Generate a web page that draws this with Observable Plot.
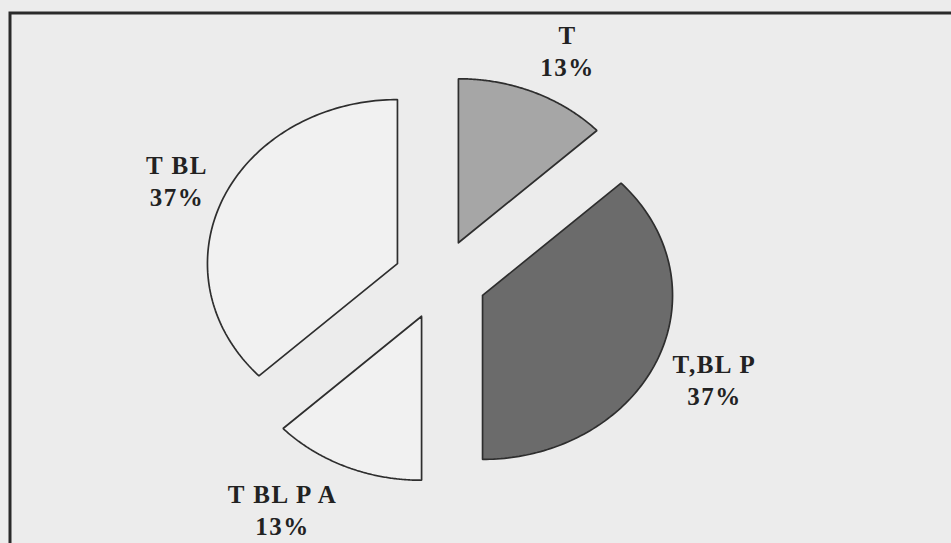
<!DOCTYPE html>
<html>
<head>
<meta charset="utf-8">
<script src="https://cdn.jsdelivr.net/npm/d3@7"></script>
<script src="https://cdn.jsdelivr.net/npm/@observablehq/plot@0.6"></script>
<style>
  html, body { margin: 0; padding: 0; background: #ececec; }
  #chart svg { display: block; }
</style>
</head>
<body>
<div id="chart"></div>
<script>
// ---- data ----
const categories = ["T", "T,BL P", "T BL P A", "T BL"];
const percents = [13, 37, 13, 37];
const sliceFills = ["#a6a6a6", "#6b6b6b", "#f1f1f1", "#f1f1f1"];

// ---- layout (style constants) ----
const W = 951, H = 543;
const CX = 439.5, CY = 279;      // pie centre in px
const RX = 190, RY = 164;        // ellipse radii in px (units -> px)
const EXPLODE = 0.244;           // explosion distance, in radius units
const LABEL_R = 1.33;            // label anchor radius, in radius units
const FONT_SIZE = 25, LETTER_SP = 1.5, LINE_H = 1.28;
const FAMILY = "Liberation Serif, Times New Roman, Times, serif";
const FONT = `bold ${FONT_SIZE}px Liberation Serif, Times New Roman, serif`;

const total = d3.sum(percents);
let acc = 0;
const slices = categories.map((name, i) => {
  const a0 = acc / total * 2 * Math.PI;
  acc += percents[i];
  const a1 = acc / total * 2 * Math.PI;
  return {name, pct: percents[i], fill: sliceFills[i], a0, a1, mid: (a0 + a1) / 2};
});

// polygon points (unit space, y up) for each slice
function slicePoints(s) {
  const ox = EXPLODE * Math.sin(s.mid), oy = EXPLODE * Math.cos(s.mid);
  const pts = [{x: ox, y: oy}];
  const n = 120;
  for (let k = 0; k <= n; ++k) {
    const a = s.a0 + (s.a1 - s.a0) * k / n;
    pts.push({x: ox + Math.sin(a), y: oy + Math.cos(a)});
  }
  pts.push({x: ox, y: oy});
  return pts;
}

// label placement: box just outside the slice along its mid-angle
const ctx = document.createElement("canvas").getContext("2d");
ctx.font = FONT;
function textWidth(t) { return ctx.measureText(t).width + LETTER_SP * t.length; }
const labels = slices.map(s => {
  const lines = [s.name, `${s.pct}%`];
  const w = d3.max(lines, textWidth);
  const h = lines.length * FONT_SIZE * LINE_H;
  const sn = Math.sin(s.mid), cs = Math.cos(s.mid);
  const px = LABEL_R * RX * sn + Math.sign(sn) * w / 2;
  const pyDown = -LABEL_R * RY * cs - cs * h / 2;
  return {x: px / RX, y: -pyDown / RY, text: lines.join("\n")};
});

const marks = [
  ...slices.map(s => Plot.line(slicePoints(s), {
    x: "x", y: "y", fill: s.fill, stroke: "#2e2e2e", strokeWidth: 1.7, strokeLinejoin: "miter"
  })),
  Plot.text(labels, {
    x: "x", y: "y", text: "text",
    fontSize: FONT_SIZE, fontFamily: FAMILY,
    fontWeight: "bold", lineHeight: LINE_H, lineAnchor: "middle", textAnchor: "middle",
    fill: "#222"
  }),
  Plot.frame({stroke: "#2a2a2a", strokeWidth: 3, insetLeft: 9.5, insetTop: 12.5, insetRight: -30, insetBottom: -30})
];

const chart = Plot.plot({
  width: W, height: H, margin: 0,
  x: {domain: [-CX / RX, (W - CX) / RX], axis: null},
  y: {domain: [-(H - CY) / RY, CY / RY], axis: null},
  style: {background: "#ececec", overflow: "hidden", letterSpacing: `${LETTER_SP}px`},
  marks
});
document.getElementById("chart").append(chart);
</script>
</body>
</html>
